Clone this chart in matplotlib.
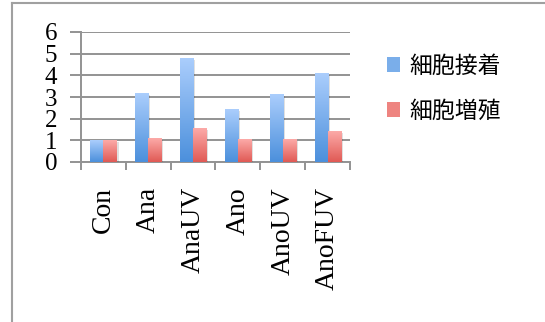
import numpy as np
import matplotlib
matplotlib.use("Agg")
import matplotlib.pyplot as plt
from matplotlib.lines import Line2D
from matplotlib.patches import Patch
import matplotlib.patheffects as pe
from matplotlib.colors import LinearSegmentedColormap

# data
categories = ["Con", "Ana", "AnaUV", "Ano", "AnoUV", "AnoFUV"]
adhesion = [1.0, 3.15, 4.78, 2.42, 3.1, 4.08]       # 細胞接着
proliferation = [1.0, 1.08, 1.55, 1.03, 1.03, 1.4]  # 細胞増殖
series_names = ["細胞接着", "細胞増殖"]

blue_cm = LinearSegmentedColormap.from_list("b", ["#4c90dc", "#aacdfc"])
red_cm = LinearSegmentedColormap.from_list("r", ["#e05a55", "#fcaaa8"])

fig = plt.figure(figsize=(5.45, 3.22), dpi=100)
ax = fig.add_axes([81/545, 1-162/322, 269/545, 130/322])

x = np.arange(len(categories))
w = 0.29
grad = np.linspace(0, 1, 64).reshape(-1, 1)

def grad_bars(xpos, vals, cmap, mid):
    bars = ax.bar(xpos, vals, width=w, color=mid, zorder=3)
    for b in bars:
        b.set_path_effects([pe.SimplePatchShadow(offset=(1.5, -1), alpha=0.12, shadow_rgbFace="#000000"), pe.Normal()])
        x0, y0 = b.get_x(), b.get_y()
        ax.imshow(grad, extent=[x0, x0 + b.get_width(), y0, y0 + b.get_height()],
                  origin="lower", aspect="auto", cmap=cmap, zorder=4)

grad_bars(x - w/2, adhesion, blue_cm, "#7aaeea")
grad_bars(x + w/2, proliferation, red_cm, "#ee8480")

ax.set_xlim(-0.5, len(categories) - 0.5)
ax.set_ylim(0, 6)
ax.set_yticks(range(7))
ax.yaxis.grid(True, color="#939393", lw=1.4, zorder=1)
ax.set_axisbelow(True)

for s in ["top", "right"]:
    ax.spines[s].set_visible(False)
for s in ["left", "bottom"]:
    ax.spines[s].set_color("#939393")
    ax.spines[s].set_linewidth(1.4)

serif = "Liberation Serif"
ax.tick_params(axis="y", length=8, width=1.4, color="#939393", pad=9)
for t in ax.get_yticklabels():
    t.set_fontfamily(serif)
    t.set_fontsize(18)

ax.set_xticks(x)
ax.set_xticklabels(categories, rotation=90, fontfamily=serif, fontsize=20)
ax.tick_params(axis="x", which="major", length=0, pad=18)
ax.set_xticks(np.arange(-0.5, len(categories)), minor=True)
ax.tick_params(axis="x", which="minor", length=6, width=1.4, color="#939393")

handles = [Patch(facecolor="#7aaeea"), Patch(facecolor="#ee8480")]
fig.legend(handles, series_names, loc="upper left", bbox_to_anchor=(366/545, 1-34/322),
           frameon=False, prop={"family": ["Noto Sans CJK JP", "DejaVu Sans"], "size": 16.5},
           handlelength=0.6, handleheight=0.6, handletextpad=0.4, labelspacing=0.95)

# outer chart frame (only the top and left edges are visible)
fig.add_artist(Line2D([12/545, 12/545], [0, 1-3/322], color="#a0a0a0", lw=1.5))
fig.add_artist(Line2D([12/545, 1], [1-3/322, 1-3/322], color="#a0a0a0", lw=1.5))

fig.savefig("out.png", dpi=100)
